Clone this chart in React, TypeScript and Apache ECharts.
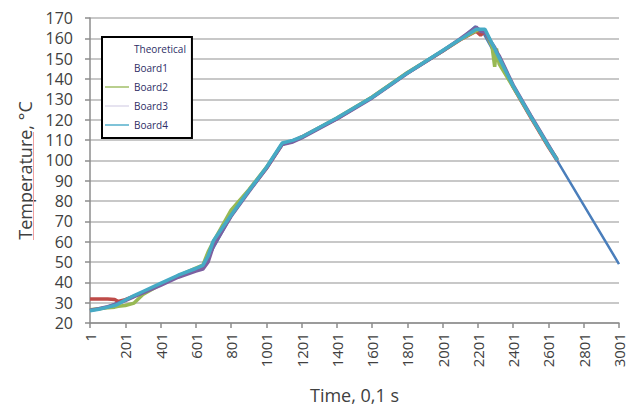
import React, { useEffect, useRef } from 'react';
import * as echarts from 'echarts';

const seriesNames = ['Theoretical', 'Board1', 'Board2', 'Board3', 'Board4'];
const seriesColors = ['#4A7EBB', '#BE4B48', '#98B954', '#7D60A0', '#46AAC5'];
const legendIconColors = ['rgba(0,0,0,0)', 'rgba(0,0,0,0)', '#b9cf8e', '#e6e3f0', '#7fc3d8'];

const xAxisName = 'Time, 0,1 s';
const yAxisName = 'Temperature, °C';
const xMin = 0;
const xMax = 3000;
const xStep = 200;
const yMin = 20;
const yMax = 170;
const yStep = 10;

const theoreticalTime = [0, 100, 200, 300, 400, 500, 600, 650, 700, 800, 900, 1000, 1090, 1200, 1400, 1600, 1800, 2000, 2100, 2185, 2225, 2400, 2600, 2800, 3000];
const theoreticalTemp = [26, 28, 31.5, 35, 39, 43, 46.5, 48.5, 57, 72.5, 85, 96.5, 108.2, 111.3, 120.6, 131, 143, 153.8, 159.5, 165.8, 163.5, 136, 107, 78, 49];

const boardTime = [0, 50, 100, 140, 160, 200, 250, 300, 400, 500, 600, 640, 670, 700, 800, 900, 1000, 1090, 1150, 1200, 1400, 1600, 1800, 2000, 2100, 2190, 2215, 2240, 2280, 2295, 2305, 2320, 2400, 2500, 2600, 2650];
const board1Temp = [31.8, 31.8, 31.8, 31.6, 30.6, 31.5, 33.2, 35, 39, 43, 46.5, 48, 52, 59.5, 73, 85, 96, 108, 109.5, 111.5, 120.5, 131, 143, 153.8, 159.3, 163.5, 161.5, 163.5, 157, 154.5, 152.5, 150.5, 136, 121, 106.5, 99.8];
const board2Temp = [26.5, 27, 27.5, 27.8, 28.2, 28.6, 29.8, 34, 39, 43.2, 47, 48.5, 55, 60, 75.5, 85.5, 96.5, 108, 109.5, 111.2, 120.8, 131.2, 143.2, 153.8, 159.5, 163.8, 164, 163.5, 156, 146, 155, 147.5, 136, 121.5, 107, 100.5];
const board3Temp = [26.3, 27, 28, 29, 29.8, 31, 33, 34.8, 38.5, 42.5, 45.5, 46.5, 50, 58, 72.5, 84.5, 96, 107.8, 109, 111, 120.3, 130.7, 142.8, 153.8, 159.8, 165.5, 163.5, 163, 157.5, 155.5, 153.5, 151.5, 137, 122, 107.5, 100.2];
const board4Temp = [26, 26.8, 27.8, 28.6, 29.3, 31.3, 33.5, 35.5, 39.5, 43.5, 46.8, 48.3, 53, 60.5, 73, 85, 96.5, 108.5, 109.8, 111.5, 120.8, 131, 143, 154, 159.5, 164.5, 164.5, 164.5, 157.5, 155, 153, 150.5, 136.5, 121.5, 107, 100];

const FONT = '"Open Sans", "Noto Sans", sans-serif';
const TEXT = '#404040';

function pairs(t: number[], v: number[]) {
  return t.map((x, i) => [x, v[i]]);
}

export default function App() {
  const ref = useRef<HTMLDivElement>(null);
  useEffect(() => {
    if (!ref.current) return;
    const chart = echarts.init(ref.current, undefined, { renderer: 'svg' });
    const seriesData = [
      pairs(theoreticalTime, theoreticalTemp),
      pairs(boardTime, board1Temp),
      pairs(boardTime, board2Temp),
      pairs(boardTime, board3Temp),
      pairs(boardTime, board4Temp),
    ];
    chart.setOption({
      animation: false,
      backgroundColor: '#ffffff',
      textStyle: { fontFamily: FONT },
      grid: { left: 90, right: 11, top: 18, bottom: 91, containLabel: false },
      legend: {
        orient: 'vertical',
        left: 102,
        top: 37,
        backgroundColor: '#ffffff',
        borderColor: '#000000',
        borderWidth: 2,
        borderRadius: 0,
        padding: [7, 6, 8, 3],
        itemGap: 9,
        itemWidth: 24,
        itemHeight: 2,
        icon: 'rect',
        textStyle: { fontSize: 10, color: '#2e2e66', lineHeight: 10, fontFamily: FONT },
        data: seriesNames.map((n, i) => ({ name: n, itemStyle: { color: legendIconColors[i] } })),
      },
      xAxis: {
        type: 'value',
        min: xMin,
        max: xMax,
        interval: xStep,
        name: xAxisName,
        nameLocation: 'middle',
        nameGap: 63,
        nameTextStyle: { fontSize: 18, color: TEXT, fontFamily: FONT },
        axisLine: { show: true, lineStyle: { color: '#8c8c8c', width: 1.5 } },
        axisTick: { show: true, length: 5, lineStyle: { color: '#8c8c8c', width: 1.5 } },
        axisLabel: {
          rotate: 90,
          margin: 10,
          fontSize: 15,
          color: TEXT,
          fontFamily: FONT,
          formatter: (v: number) => String(v + 1),
        },
        splitLine: { show: false },
      },
      yAxis: {
        type: 'value',
        min: yMin,
        max: yMax,
        interval: yStep,
        name: yAxisName,
        nameLocation: 'middle',
        nameGap: 56,
        nameTextStyle: { fontSize: 18, color: TEXT, fontFamily: FONT },
        axisLine: { show: true, lineStyle: { color: '#8c8c8c', width: 1.5 } },
        axisTick: { show: true, length: 5, lineStyle: { color: '#8c8c8c', width: 1.5 } },
        axisLabel: { margin: 17, fontSize: 16, color: TEXT, fontFamily: FONT },
        splitLine: { show: true, lineStyle: { color: '#c8c8c8', width: 2 } },
      },
      graphic: [
        {
          type: 'line',
          shape: { x1: 33.5, y1: 132, x2: 33.5, y2: 240 },
          style: { stroke: '#f2a0a0', lineWidth: 1 },
          z: 10,
        },
      ],
      series: seriesNames.map((n, i) => ({
        name: n,
        type: 'line',
        data: seriesData[i],
        showSymbol: false,
        symbol: 'none',
        color: seriesColors[i],
        lineStyle: { color: seriesColors[i], width: i === 0 ? 2.5 : 3.5 },
        z: 2 + i,
      })),
    });
    return () => chart.dispose();
  }, []);
  return (
    <div
      ref={ref}
      style={{ position: 'fixed', left: 0, top: 0, width: 630, height: 414 }}
    />
  );
}
